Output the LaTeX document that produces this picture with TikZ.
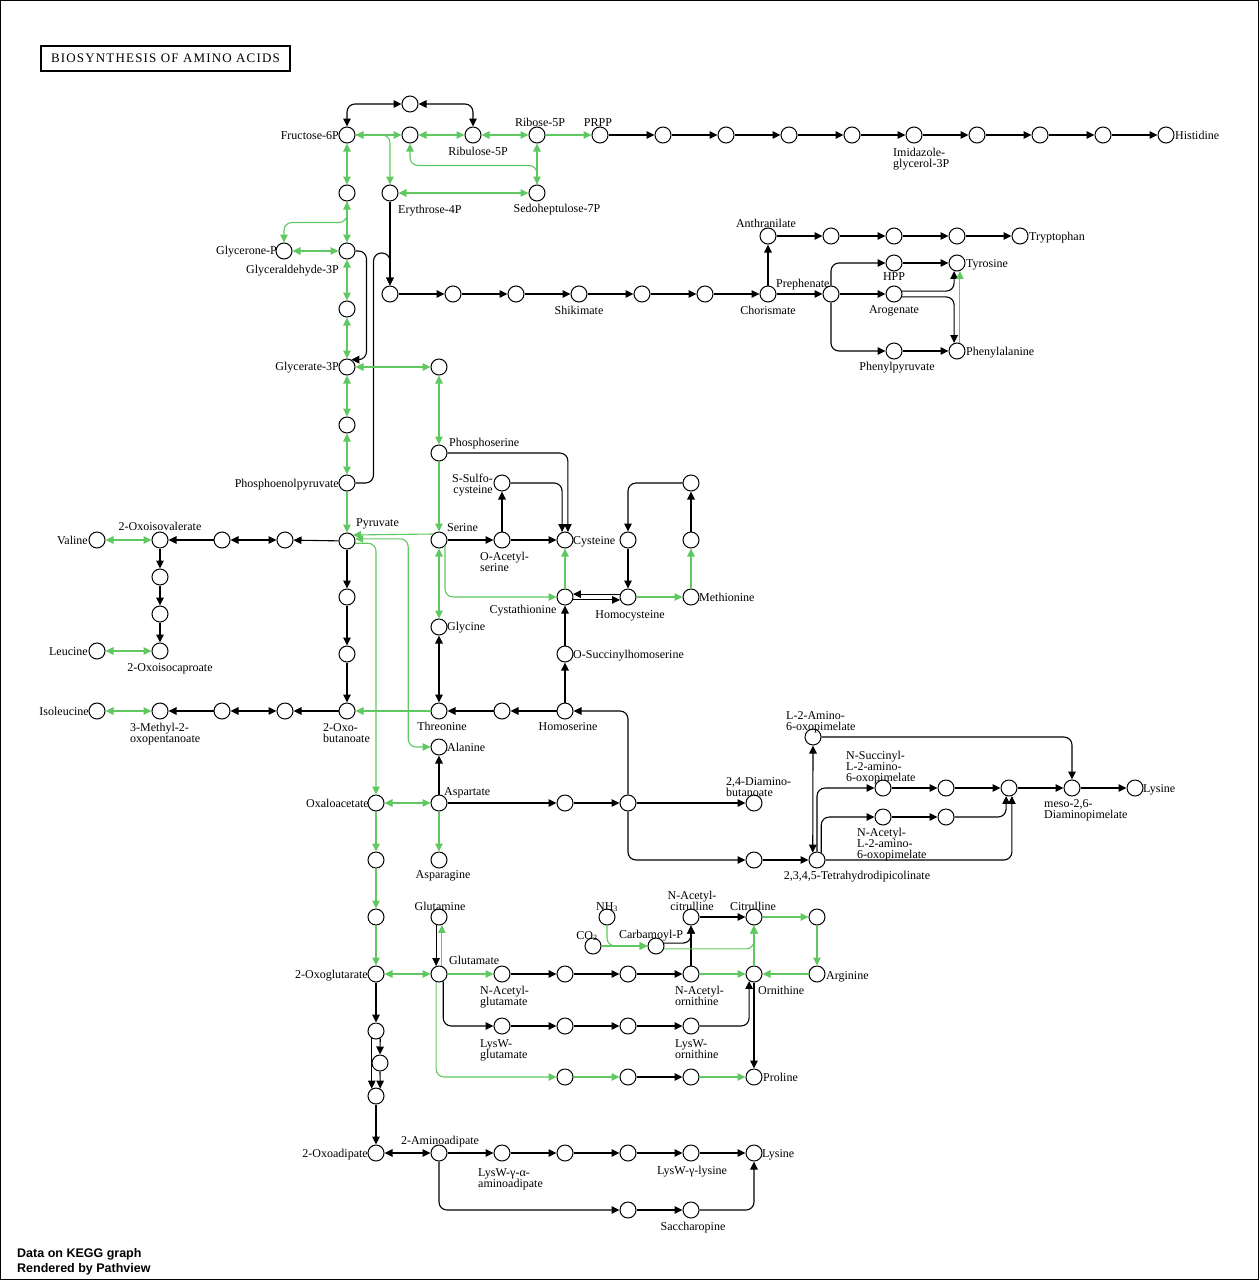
\documentclass[tikz,border=0pt]{standalone}
\usepackage{fontspec}
\setmainfont{Liberation Serif}
\newfontfamily\titlefont{Liberation Serif}[LetterSpace=9]
\newfontfamily\footfont{Liberation Sans}
\usetikzlibrary{arrows.meta}
\definecolor{kgreen}{RGB}{96,200,96}

\begin{document}
\begin{tikzpicture}[
		x=1pt, y=-1pt,
		>={Triangle[length=8pt,width=7.5pt]},
		cpd/.style={circle, draw, fill=white, line width=1pt, minimum size=16pt, inner sep=0pt},
		lbl/.style={inner sep=0pt, font=\fontsize{12}{11}\selectfont, text height=8pt, text depth=2pt},
		mlbl/.style={inner sep=0pt, font=\fontsize{12}{11}\selectfont, align=left},
		blk/.style={draw=black, line width=1.1pt, rounded corners=8pt},
		grn/.style={draw=kgreen, line width=1.1pt, rounded corners=8pt}
	]
	\useasboundingbox (0,0) rectangle (1259,1280);
	\draw[line width=1pt] (0.5,0.5) rectangle (1258,1279.5);

	\node[draw, line width=1.4pt, minimum width=249pt, minimum height=25pt, inner sep=0pt,
		font=\titlefont\fontsize{13}{13}\selectfont] (title) at (165.5,58.5) {BIOSYNTHESIS OF AMINO ACIDS};
	\node[anchor=base west, inner sep=0pt, font=\footfont\bfseries\fontsize{12.5}{12.5}\selectfont] (foot1) at (17,1257) {Data on KEGG graph};
	\node[anchor=base west, inner sep=0pt, font=\footfont\bfseries\fontsize{12.5}{12.5}\selectfont] (foot2) at (17,1272) {Rendered by Pathview};

	% pentose phosphate and histidine
	\node[cpd] (t1) at (410,104) {};
	\node[cpd] (F6P) at (347,135) {};
	\node[cpd] (ce) at (410,135) {};
	\node[cpd] (Ru5P) at (473,135) {};
	\node[cpd] (R5P) at (537,135) {};
	\node[cpd] (PRPP) at (600,135) {};
	\node[cpd] (h1) at (663,135) {};
	\node[cpd] (h2) at (726,135) {};
	\node[cpd] (h3) at (789,135) {};
	\node[cpd] (h4) at (852,135) {};
	\node[cpd] (IGP) at (914,135) {};
	\node[cpd] (h6) at (977,135) {};
	\node[cpd] (h7) at (1040,135) {};
	\node[cpd] (h8) at (1103,135) {};
	\node[cpd] (His) at (1166,135) {};
	\node[cpd] (cFG) at (347,193) {};
	\node[cpd] (E4P) at (390,193) {};
	\node[cpd] (S7P) at (537,193) {};

	% glycolysis
	\node[cpd] (GlyP) at (284,251) {};
	\node[cpd] (G3P) at (347,251) {};
	\node[cpd] (cG) at (347,309) {};
	\node[cpd] (Gly3P) at (347,367) {};
	\node[cpd] (cP) at (347,425) {};
	\node[cpd] (PEP) at (347,483) {};
	\node[cpd] (Pyr) at (347,541) {};

	% shikimate and aromatics
	\node[cpd] (s1) at (390,294) {};
	\node[cpd] (s2) at (453,294) {};
	\node[cpd] (s3) at (516,294) {};
	\node[cpd] (Shik) at (579,294) {};
	\node[cpd] (s5) at (642,294) {};
	\node[cpd] (s6) at (705,294) {};
	\node[cpd] (Chor) at (768,294) {};
	\node[cpd] (Preph) at (831,294) {};
	\node[cpd] (Anth) at (768,236) {};
	\node[cpd] (tr1) at (831,236) {};
	\node[cpd] (tr2) at (894,236) {};
	\node[cpd] (tr3) at (957,236) {};
	\node[cpd] (Trp) at (1020,236) {};
	\node[cpd] (HPP) at (894,263) {};
	\node[cpd] (Tyr) at (957,263) {};
	\node[cpd] (Arog) at (894,294) {};
	\node[cpd] (PhPyr) at (894,351) {};
	\node[cpd] (Phe) at (957,351) {};

	% serine, cysteine, methionine, threonine
	\node[cpd] (cS0) at (439,367) {};
	\node[cpd] (PSer) at (439,453) {};
	\node[cpd] (SSC) at (502,483) {};
	\node[cpd] (Ser) at (439,540) {};
	\node[cpd] (OAS) at (502,540) {};
	\node[cpd] (Cys) at (565,540) {};
	\node[cpd] (m1) at (628,540) {};
	\node[cpd] (m2) at (691,483) {};
	\node[cpd] (m3) at (691,540) {};
	\node[cpd] (Cysta) at (565,597) {};
	\node[cpd] (HCys) at (628,597) {};
	\node[cpd] (Met) at (691,597) {};
	\node[cpd] (Gly) at (439,627) {};
	\node[cpd] (OSH) at (565,654) {};
	\node[cpd] (HSer) at (565,711) {};
	\node[cpd] (th1) at (502,711) {};
	\node[cpd] (Thr) at (439,711) {};
	\node[cpd] (OxB) at (347,711) {};
	\node[cpd] (p1) at (347,597) {};
	\node[cpd] (p2) at (347,654) {};

	% branched chain
	\node[cpd] (Val) at (97,540) {};
	\node[cpd] (OIV) at (160,540) {};
	\node[cpd] (v1) at (222,540) {};
	\node[cpd] (v2) at (285,540) {};
	\node[cpd] (l1) at (160,577) {};
	\node[cpd] (l2) at (160,614) {};
	\node[cpd] (OIC) at (160,651) {};
	\node[cpd] (Leu) at (97,651) {};
	\node[cpd] (Ile) at (97,711) {};
	\node[cpd] (MOP) at (160,711) {};
	\node[cpd] (i1) at (222,711) {};
	\node[cpd] (i2) at (285,711) {};

	% aspartate and lysine (DAP)
	\node[cpd] (Ala) at (439,747) {};
	\node[cpd] (Asp) at (439,803) {};
	\node[cpd] (OAA) at (376,803) {};
	\node[cpd] (Asn) at (439,860) {};
	\node[cpd] (a1) at (565,803) {};
	\node[cpd] (a2) at (628,803) {};
	\node[cpd] (DAB) at (754,803) {};
	\node[cpd] (a3) at (754,860) {};
	\node[cpd] (THDP) at (817,860) {};
	\node[cpd] (L2A) at (813,737) {};
	\node[cpd] (NSuc) at (883,788) {};
	\node[cpd] (ns2) at (946,788) {};
	\node[cpd] (ns3) at (1009,788) {};
	\node[cpd] (NAc) at (883,817) {};
	\node[cpd] (na2) at (946,817) {};
	\node[cpd] (DAP) at (1072,788) {};
	\node[cpd] (Lys) at (1135,788) {};

	% glutamate, arginine, proline
	\node[cpd] (k1) at (376,860) {};
	\node[cpd] (k2) at (376,917) {};
	\node[cpd] (AKG) at (376,974) {};
	\node[cpd] (Glu) at (439,974) {};
	\node[cpd] (Gln) at (439,917) {};
	\node[cpd] (NAG) at (502,974) {};
	\node[cpd] (g1) at (565,974) {};
	\node[cpd] (g2) at (628,974) {};
	\node[cpd] (NAO) at (691,974) {};
	\node[cpd] (Orn) at (754,974) {};
	\node[cpd] (Arg) at (817,974) {};
	\node[cpd] (r1) at (817,917) {};
	\node[cpd] (Cit) at (754,917) {};
	\node[cpd] (NACit) at (691,917) {};
	\node[cpd] (NH3) at (607,917) {};
	\node[cpd] (CO2) at (593,946) {};
	\node[cpd] (CP) at (656,946) {};
	\node[cpd] (LWG) at (502,1026) {};
	\node[cpd] (w1) at (565,1026) {};
	\node[cpd] (w2) at (628,1026) {};
	\node[cpd] (LWO) at (691,1026) {};
	\node[cpd] (q1) at (565,1077) {};
	\node[cpd] (q2) at (628,1077) {};
	\node[cpd] (q3) at (691,1077) {};
	\node[cpd] (Pro) at (754,1077) {};

	% lysine (AAA)
	\node[cpd] (o1) at (376,1031) {};
	\node[cpd] (o2) at (380,1063) {};
	\node[cpd] (o3) at (376,1096) {};
	\node[cpd] (OAD) at (376,1153) {};
	\node[cpd] (AAD) at (439,1153) {};
	\node[cpd] (LWA) at (502,1153) {};
	\node[cpd] (y1) at (565,1153) {};
	\node[cpd] (y2) at (628,1153) {};
	\node[cpd] (LWL) at (691,1153) {};
	\node[cpd] (Lys2) at (754,1153) {};
	\node[cpd] (y3) at (628,1210) {};
	\node[cpd] (Sacc) at (691,1210) {};

	% labels
	\node[lbl, anchor=east] (tF6P) at (339,136) {Fructose-6P};
	\node[lbl] (tRu5P) at (478,152) {Ribulose-5P};
	\node[lbl] (tR5P) at (540,123) {Ribose-5P};
	\node[lbl] (tPRPP) at (598,123) {PRPP};
	\node[mlbl, anchor=north west] (tIGP) at (893,148) {Imidazole-\\glycerol-3P};
	\node[lbl, anchor=west] (tHis) at (1175,136) {Histidine};
	\node[lbl, anchor=west] (tE4P) at (398,210) {Erythrose-4P};
	\node[lbl] (tS7P) at (557,209) {Sedoheptulose-7P};
	\node[lbl, anchor=east] (tGlyP) at (277,251) {Glycerone-P};
	\node[lbl, anchor=east] (tG3P) at (339,270) {Glyceraldehyde-3P};
	\node[lbl, anchor=east] (tGly3P) at (339,367) {Glycerate-3P};
	\node[lbl, anchor=east] (tPEP) at (339,484) {Phosphoenolpyruvate};
	\node[lbl, anchor=west] (tPyr) at (356,523) {Pyruvate};
	\node[lbl] (tShik) at (579,311) {Shikimate};
	\node[lbl] (tChor) at (768,311) {Chorismate};
	\node[lbl, anchor=west] (tPreph) at (776,284) {Prephenate};
	\node[lbl] (tAnth) at (766,224) {Anthranilate};
	\node[lbl, anchor=west] (tTrp) at (1029,237) {Tryptophan};
	\node[lbl] (tHPP) at (894,277) {HPP};
	\node[lbl, anchor=west] (tTyr) at (966,264) {Tyrosine};
	\node[lbl] (tArog) at (894,310) {Arogenate};
	\node[lbl] (tPhPyr) at (897,367) {Phenylpyruvate};
	\node[lbl, anchor=west] (tPhe) at (966,352) {Phenylalanine};
	\node[lbl, anchor=west] (tPSer) at (449,443) {Phosphoserine};
	\node[mlbl, align=right, anchor=north east] (tSSC) at (493,474) {S-Sulfo-\\cysteine};
	\node[lbl, anchor=west] (tSer) at (447,528) {Serine};
	\node[mlbl, anchor=north west] (tOAS) at (480,552) {O-Acetyl-\\serine};
	\node[lbl, anchor=west] (tCys) at (573,541) {Cysteine};
	\node[lbl] (tCysta) at (523,610) {Cystathionine};
	\node[lbl] (tHCys) at (630,615) {Homocysteine};
	\node[lbl, anchor=west] (tMet) at (699,598) {Methionine};
	\node[lbl, anchor=west] (tGly) at (447,627) {Glycine};
	\node[lbl, anchor=west] (tOSH) at (573,655) {O-Succinylhomoserine};
	\node[lbl] (tHSer) at (568,727) {Homoserine};
	\node[lbl] (tThr) at (442,727) {Threonine};
	\node[mlbl, anchor=north west] (tOxB) at (323,723) {2-Oxo-\\butanoate};
	\node[lbl] (tOIV) at (160,527) {2-Oxoisovalerate};
	\node[lbl, anchor=east] (tVal) at (88,541) {Valine};
	\node[lbl] (tOIC) at (170,668) {2-Oxoisocaproate};
	\node[lbl, anchor=east] (tLeu) at (88,652) {Leucine};
	\node[lbl, anchor=east] (tIle) at (89,712) {Isoleucine};
	\node[mlbl, anchor=north west] (tMOP) at (130,723) {3-Methyl-2-\\oxopentanoate};
	\node[lbl, anchor=west] (tAla) at (447,748) {Alanine};
	\node[lbl, anchor=west] (tAsp) at (444,792) {Aspartate};
	\node[lbl, anchor=east] (tOAA) at (369,804) {Oxaloacetate};
	\node[lbl] (tAsn) at (443,875) {Asparagine};
	\node[mlbl, anchor=north west] (tDAB) at (726,777) {2,4-Diamino-\\butanoate};
	\node[mlbl, anchor=north west] (tL2A) at (786,711) {L-2-Amino-\\6-oxopimelate};
	\node[mlbl, anchor=north west] (tNSuc) at (846,751) {N-Succinyl-\\L-2-amino-\\6-oxopimelate};
	\node[mlbl, anchor=north west] (tNAc) at (857,828) {N-Acetyl-\\L-2-amino-\\6-oxopimelate};
	\node[lbl] (tTHDP) at (857,876) {2,3,4,5-Tetrahydrodipicolinate};
	\node[mlbl, anchor=north west] (tDAP) at (1044,799) {meso-2,6-\\Diaminopimelate};
	\node[lbl, anchor=west] (tLys) at (1143,789) {Lysine};
	\node[lbl] (tGln) at (440,907) {Glutamine};
	\node[lbl, anchor=west] (tGlu) at (449,961) {Glutamate};
	\node[lbl, anchor=east] (tAKG) at (368,975) {2-Oxoglutarate};
	\node[mlbl, anchor=north west] (tNAG) at (480,986) {N-Acetyl-\\glutamate};
	\node[lbl] (tNH3) at (607,907) {NH\textsubscript{3}};
	\node[lbl] (tCO2) at (587,936) {CO\textsubscript{2}};
	\node[lbl] (tCP) at (651,935) {Carbamoyl-P};
	\node[mlbl, align=center, anchor=north] (tNACit) at (692,891) {N-Acetyl-\\citrulline};
	\node[lbl] (tCit) at (753,907) {Citrulline};
	\node[lbl, anchor=west] (tArg) at (826,976) {Arginine};
	\node[lbl, anchor=west] (tOrn) at (758,991) {Ornithine};
	\node[mlbl, anchor=north west] (tNAO) at (675,986) {N-Acetyl-\\ornithine};
	\node[mlbl, anchor=north west] (tLWG) at (480,1039) {LysW-\\glutamate};
	\node[mlbl, anchor=north west] (tLWO) at (675,1039) {LysW-\\ornithine};
	\node[lbl, anchor=west] (tPro) at (763,1078) {Proline};
	\node[lbl, anchor=east] (tOAD) at (368,1154) {2-Oxoadipate};
	\node[lbl] (tAAD) at (440,1141) {2-Aminoadipate};
	\node[mlbl, anchor=north west] (tLWA) at (478,1168) {LysW-γ-α-\\aminoadipate};
	\node[lbl] (tLWL) at (692,1171) {LysW-γ-lysine};
	\node[lbl, anchor=west] (tLys2) at (762,1154) {Lysine};
	\node[lbl] (tSacc) at (693,1227) {Saccharopine};

	% black reactions
	\draw[blk, <->] (F6P.north) |- (t1.west);
	\draw[blk, <->] (t1.east) -| (Ru5P.north);
	\draw[blk, ->] (PRPP) -- (h1);
	\draw[blk, ->] (h1) -- (h2);
	\draw[blk, ->] (h2) -- (h3);
	\draw[blk, ->] (h3) -- (h4);
	\draw[blk, ->] (h4) -- (IGP);
	\draw[blk, ->] (IGP) -- (h6);
	\draw[blk, ->] (h6) -- (h7);
	\draw[blk, ->] (h7) -- (h8);
	\draw[blk, ->] (h8) -- (His);
	\draw[blk, ->] (G3P.east) -- ++(11,0) |- (Gly3P.60);
	\draw[blk, ->] (E4P) -- (s1);
	\draw[blk, ->] (PEP.east) -- ++(18,0) -- ++(0,-230) -| (s1.north);
	\draw[blk, ->] (s1) -- (s2);
	\draw[blk, ->] (s2) -- (s3);
	\draw[blk, ->] (s3) -- (Shik);
	\draw[blk, ->] (Shik) -- (s5);
	\draw[blk, ->] (s5) -- (s6);
	\draw[blk, ->] (s6) -- (Chor);
	\draw[blk, ->] (Chor) -- (Preph);
	\draw[blk, ->] (Chor) -- (Anth);
	\draw[blk, ->] (Anth) -- (tr1);
	\draw[blk, ->] (tr1) -- (tr2);
	\draw[blk, ->] (tr2) -- (tr3);
	\draw[blk, ->] (tr3) -- (Trp);
	\draw[blk, ->] (Preph.north) |- (HPP.west);
	\draw[blk, ->] (Preph) -- (Arog);
	\draw[blk, ->] (Preph.south) |- (PhPyr.west);
	\draw[blk, ->] (HPP) -- (Tyr);
	\draw[blk, ->] (Arog.20) -| (Tyr.-110);
	\draw[blk, ->] (Arog.-20) -| (Phe.110);
	\draw[blk, ->] (PhPyr) -- (Phe);
	\draw[blk, ->] (PSer.east) -| (Cys.70);
	\draw[blk, ->] (SSC.east) -| (Cys.110);
	\draw[blk, ->] (OAS) -- (SSC);
	\draw[blk, ->] (Ser) -- (OAS);
	\draw[blk, ->] (OAS) -- (Cys);
	\draw[blk, ->] (HCys.160) -- (Cysta.20);
	\draw[blk, ->] (Cysta.-20) -- (HCys.-160);
	\draw[blk, ->] (m1) -- (HCys);
	\draw[blk, ->] (m2.west) -| (m1.north);
	\draw[blk, ->] (m3) -- (m2);
	\draw[blk, ->] (OSH) -- (Cysta);
	\draw[blk, ->] (HSer) -- (OSH);
	\draw[blk, ->] (HSer) -- (th1);
	\draw[blk, ->] (th1) -- (Thr);
	\draw[blk, <->] (Gly) -- (Thr);
	\draw[blk, ->] (Pyr) -- (p1);
	\draw[blk, ->] (p1) -- (p2);
	\draw[blk, ->] (p2) -- (OxB);
	\draw[blk, ->] (Pyr) -- (v2);
	\draw[blk, <->] (v2) -- (v1);
	\draw[blk, ->] (v1) -- (OIV);
	\draw[blk, ->] (OIV) -- (l1);
	\draw[blk, ->] (l1) -- (l2);
	\draw[blk, ->] (l2) -- (OIC);
	\draw[blk, ->] (OxB) -- (i2);
	\draw[blk, <->] (i2) -- (i1);
	\draw[blk, ->] (i1) -- (MOP);
	\draw[blk, ->] (Asp) -- (Ala);
	\draw[blk, ->] (Asp) -- (a1);
	\draw[blk, ->] (a1) -- (a2);
	\draw[blk, ->] (a2.north) |- (HSer.east);
	\draw[blk, ->] (a2) -- (DAB);
	\draw[blk, ->] (a2.south) |- (a3.west);
	\draw[blk, ->] (a3) -- (THDP);
	\draw[blk, <->] (L2A.south) -- (THDP.120);
	\draw[blk, ->] (L2A.east) -| (DAP.north);
	\draw[blk, ->] (THDP.north) |- (NSuc.west);
	\draw[blk, ->] (THDP.60) |- (NAc.west);
	\draw[blk, ->] (THDP.east) -| (ns3.-70);
	\draw[blk, ->] (NSuc) -- (ns2);
	\draw[blk, ->] (ns2) -- (ns3);
	\draw[blk, ->] (ns3) -- (DAP);
	\draw[blk, ->] (DAP) -- (Lys);
	\draw[blk, ->] (NAc) -- (na2);
	\draw[blk, ->] (na2.east) -| (ns3.-110);
	\draw[blk, ->] (Gln.-110) -- (Glu.110);
	\draw[blk, ->] (NAG) -- (g1);
	\draw[blk, ->] (g1) -- (g2);
	\draw[blk, ->] (g2) -- (NAO);
	\draw[blk, ->] (NAO) -- (NACit);
	\draw[blk, ->] (NACit) -- (Cit);
	\draw[blk, ->] (CP.20) -| (NACit.south);
	\draw[blk, ->] (Glu.-60) |- (LWG.west);
	\draw[blk, ->] (LWG) -- (w1);
	\draw[blk, ->] (w1) -- (w2);
	\draw[blk, ->] (w2) -- (LWO);
	\draw[blk, ->] (LWO.east) -| (Orn.-125);
	\draw[blk, ->] (Orn) -- (Pro);
	\draw[blk, ->] (q2) -- (q3);
	\draw[blk, ->] (AKG) -- (o1);
	\draw[blk, ->] (o1.-60) -- (o2.north);
	\draw[blk, ->] (o2.south) -- (o3.60);
	\draw[blk, ->] (o1.-120) -- (o3.120);
	\draw[blk, ->] (o3) -- (OAD);
	\draw[blk, <->] (OAD) -- (AAD);
	\draw[blk, ->] (AAD) -- (LWA);
	\draw[blk, ->] (LWA) -- (y1);
	\draw[blk, ->] (y1) -- (y2);
	\draw[blk, ->] (y2) -- (LWL);
	\draw[blk, ->] (LWL) -- (Lys2);
	\draw[blk, ->] (AAD.south) |- (y3.west);
	\draw[blk, ->] (y3) -- (Sacc);
	\draw[blk, ->] (Sacc.east) -| (Lys2.south);

	% green reactions
	\draw[grn, <->] (F6P) -- (ce);
	\draw[grn, ->] (F6P.east) -| (E4P.north);
	\draw[grn, <->] (ce) -- (Ru5P);
	\draw[grn, <->] (Ru5P) -- (R5P);
	\draw[grn, ->] (R5P) -- (PRPP);
	\draw[grn, <->] (R5P) -- (S7P);
	\draw[grn, <-] (ce.south) -- ++(0,22) -| (S7P.north);
	\draw[grn, <->] (E4P) -- (S7P);
	\draw[grn, <->] (F6P) -- (cFG);
	\draw[grn, <->] (cFG) -- (G3P);
	\draw[grn, ->] (cFG.south) -- ++(0,21) -| (GlyP.north);
	\draw[grn, <->] (GlyP) -- (G3P);
	\draw[grn, <->] (G3P) -- (cG);
	\draw[grn, <->] (cG) -- (Gly3P);
	\draw[grn, <->] (Gly3P) -- (cP);
	\draw[grn, <->] (cP) -- (PEP);
	\draw[grn, ->] (PEP) -- (Pyr);
	\draw[grn, ->] (Phe.70) -- (Tyr.-70);
	\draw[grn, <->] (Gly3P) -- (cS0);
	\draw[grn, <->] (cS0) -- (PSer);
	\draw[grn, ->] (PSer) -- (Ser);
	\draw[grn, <->] (Ser) -- (Gly);
	\draw[grn, ->] (Ser.135) -- (Pyr.45);
	\draw[grn, <->] (Pyr.15) -- ++(53,0) |- (Ala.west);
	\draw[grn, ->] (Pyr.-15) -| (OAA.north);
	\draw[grn, ->] (Ser.-45) |- (Cysta.west);
	\draw[grn, ->] (Cysta) -- (Cys);
	\draw[grn, ->] (HCys) -- (Met);
	\draw[grn, ->] (Met) -- (m3);
	\draw[grn, ->] (Thr) -- (OxB);
	\draw[grn, <->] (Val) -- (OIV);
	\draw[grn, <->] (Leu) -- (OIC);
	\draw[grn, <->] (Ile) -- (MOP);
	\draw[grn, <->] (OAA) -- (Asp);
	\draw[grn, ->] (Asp) -- (Asn);
	\draw[grn, ->] (OAA) -- (k1);
	\draw[grn, ->] (k1) -- (k2);
	\draw[grn, ->] (k2) -- (AKG);
	\draw[grn, <->] (AKG) -- (Glu);
	\draw[grn, ->] (Glu.70) -- (Gln.-70);
	\draw[grn, ->] (Glu) -- (NAG);
	\draw[grn, ->] (NAO) -- (Orn);
	\draw[grn, ->] (Orn) -- (Cit);
	\draw[grn, ->] (Cit) -- (r1);
	\draw[grn, ->] (r1) -- (Arg);
	\draw[grn, ->] (Arg) -- (Orn);
	\draw[grn, ->] (CP.-20) -| (Cit.south);
	\draw[grn, ->] (NH3.south) |- (CP.west);
	\draw[grn, ->] (CO2) -- (CP);
	\draw[grn, ->] (Glu.-110) |- (q1.west);
	\draw[grn, ->] (q1) -- (q2);
	\draw[grn, ->] (q3) -- (Pro);
\end{tikzpicture}
\end{document}
